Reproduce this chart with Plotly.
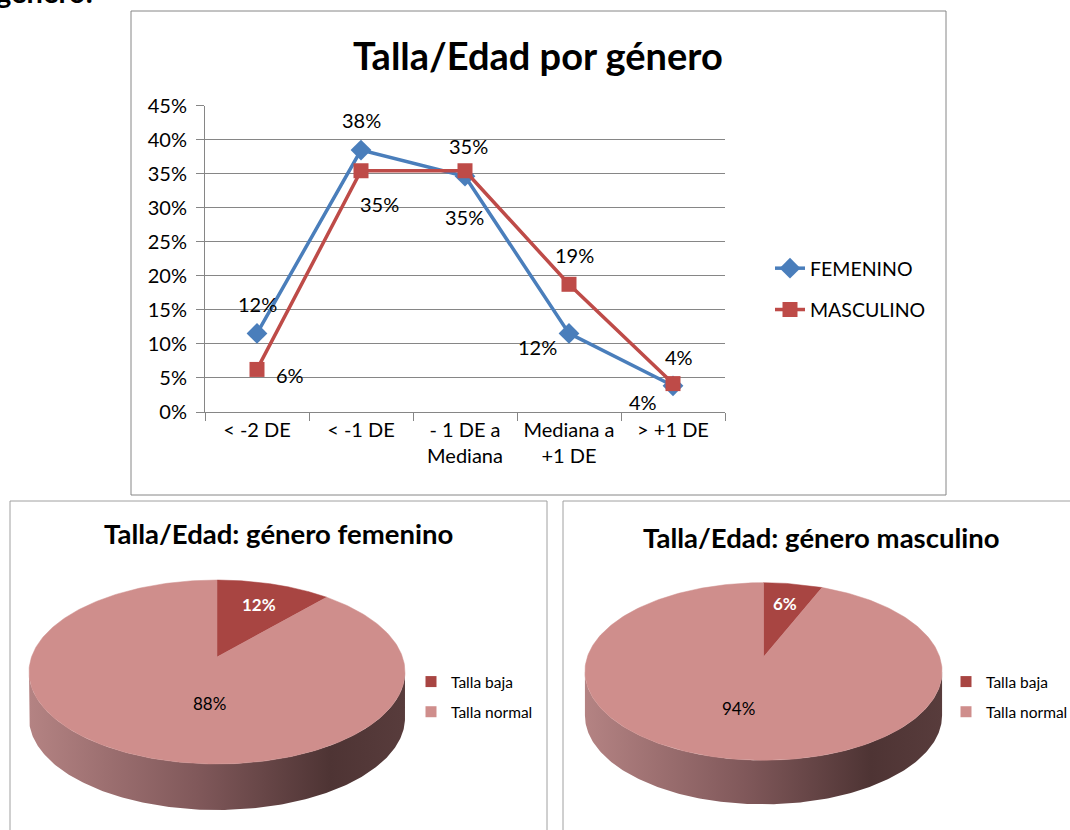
import numpy as np
import plotly.graph_objects as go

# ---------------- data ----------------
categories = ["< -2 DE", "< -1 DE", "- 1 DE a<br>Mediana", "Mediana a<br>+1 DE", "> +1 DE"]
femenino = [0.1154, 0.3846, 0.3462, 0.1154, 0.0385]
masculino = [0.0625, 0.3542, 0.3542, 0.1875, 0.0417]
fem_labels = ["12%", "38%", "35%", "12%", "4%"]
masc_labels = ["6%", "35%", "35%", "19%", "4%"]
y_ticks = [0, 0.05, 0.10, 0.15, 0.20, 0.25, 0.30, 0.35, 0.40, 0.45]

pie_names = ["Talla baja", "Talla normal"]
pie_fem = [0.1154, 0.8846]
pie_fem_text = ["12%", "88%"]
pie_masc = [0.0625, 0.9375]
pie_masc_text = ["6%", "94%"]

# ---------------- styles ----------------
W, H = 1070, 830
FONT = "Lato"
BLUE = "#4A7EBB"
RED = "#BE4B48"
BAJA = "#A84542"
NORMAL = "#CF8E8C"
GRID = "#868686"
SIDE_SCALE = [[0, "#B48383"], [0.45, "#80585A"], [0.8, "#4E3434"], [1, "#583C3C"]]

# label offsets (px) relative to points
fem_off = [(0, -29), (0, -30), (-1, 41), (-32, 14), (-30, 16)]
masc_off = [(33, 6), (18, 33), (3, -25), (5, -29), (6, -27)]

fig = go.Figure()

# ---------------- line chart ----------------
fig.add_trace(go.Scatter(
    x=categories, y=femenino, mode="lines+markers", name="FEMENINO",
    line=dict(color=BLUE, width=3.5), marker=dict(symbol="diamond", size=16, color=BLUE),
    legendgroup="f", legend="legend", hoverinfo="skip"))
fig.add_trace(go.Scatter(
    x=categories, y=masculino, mode="lines+markers", name="MASCULINO",
    line=dict(color=RED, width=3.5), marker=dict(symbol="square", size=15, color=RED),
    legendgroup="m", legend="legend", hoverinfo="skip"))

annotations = []
for vals, labs, offs in ((femenino, fem_labels, fem_off), (masculino, masc_labels, masc_off)):
    for i, (v, t, (dx, dy)) in enumerate(zip(vals, labs, offs)):
        annotations.append(dict(x=i, y=v, xref="x", yref="y", text=t, showarrow=False,
                                xshift=dx, yshift=-dy, font=dict(family=FONT, size=20, color="black")))

# ---------------- 3D pies (perspective projection) ----------------
D = 6.13
PIES = [
    dict(vals=pie_fem, text=pie_fem_text, cx=217, cy=657, kx=1137, ky=549, depth=46,
         big_off=(-8, 46), legend="legend2"),
    dict(vals=pie_masc, text=pie_masc_text, cx=763.5, cy=657, kx=1080, ky=530, depth=44,
         big_off=(-25, 51), legend="legend3"),
]


def proj(phi, r, p):
    X = r * np.sin(phi)
    Z = r * np.cos(phi)
    return p["cx"] + p["kx"] * X / (D + Z), p["cy"] - p["ky"] * Z / (D + Z)


phi_s = np.arccos(-1 / D)
for p in PIES:
    # side band
    ph = np.linspace(phi_s, 2 * np.pi - phi_s, 200)
    tx, ty = proj(ph, 1.0, p)
    sx = np.concatenate([tx, tx[::-1], tx[:1]])
    sy = np.concatenate([ty, ty[::-1] + p["depth"], ty[:1]])
    fig.add_trace(go.Scatter(x=sx, y=sy, xaxis="x2", yaxis="y2", mode="lines",
                             fill="toself", line=dict(width=0),
                             fillgradient=dict(type="horizontal", colorscale=SIDE_SCALE),
                             showlegend=False, hoverinfo="skip"))
    # top slices
    cum = np.concatenate([[0], np.cumsum(p["vals"])])
    for k, col in enumerate([BAJA, NORMAL]):
        a0, a1 = 2 * np.pi * cum[k], 2 * np.pi * cum[k + 1]
        ph = np.linspace(a0, a1, 300)
        ex, ey = proj(ph, 1.0, p)
        fx = np.concatenate([[p["cx"]], ex, [p["cx"]]])
        fy = np.concatenate([[p["cy"]], ey, [p["cy"]]])
        fig.add_trace(go.Scatter(x=fx, y=fy, xaxis="x2", yaxis="y2", mode="lines",
                                 fill="toself", fillcolor=col, line=dict(width=0.5, color=col),
                                 showlegend=False, hoverinfo="skip"))
    # labels
    mid = np.pi * p["vals"][0]
    lx, ly = proj(mid, 0.7, p)
    annotations.append(dict(x=lx, y=ly, xref="x2", yref="y2", text="<b>%s</b>" % p["text"][0],
                            showarrow=False, font=dict(family=FONT, size=17, color="white")))
    annotations.append(dict(x=p["cx"] + p["big_off"][0], y=p["cy"] + p["big_off"][1],
                            xref="x2", yref="y2", text=p["text"][1], showarrow=False,
                            font=dict(family=FONT, size=17, color="black")))
    # legend entries
    for name, col in zip(pie_names, [BAJA, NORMAL]):
        fig.add_trace(go.Scatter(x=[None], y=[None], xaxis="x2", yaxis="y2", mode="markers",
                                 marker=dict(symbol="square", size=11, color=col),
                                 name=name, legend=p["legend"], legendgroup=p["legend"] + name))

# ---------------- titles / boxes ----------------
annotations += [
    dict(x=538, y=55, xref="x2", yref="y2", text="Talla/Edad por género", showarrow=False,
         font=dict(family=FONT, size=38, color="black", weight="bold")),
    dict(x=278, y=533, xref="x2", yref="y2", text="Talla/Edad: género femenino", showarrow=False,
         font=dict(family=FONT, size=27.5, color="black", weight="bold")),
    dict(x=821, y=537, xref="x2", yref="y2", text="Talla/Edad: género masculino", showarrow=False,
         font=dict(family=FONT, size=27.5, color="black", weight="bold")),
    dict(x=0, y=1, xref="paper", yref="paper", xanchor="left", yanchor="bottom", xshift=-6,
         yshift=-11, text="género:", showarrow=False,
         font=dict(family=FONT, size=29, color="black", weight="bold")),
]

shapes = [
    dict(type="rect", xref="x2", yref="y2", x0=131, y0=11, x1=946, y1=495,
         line=dict(color=GRID, width=1)),
    dict(type="rect", xref="x2", yref="y2", x0=10, y0=501, x1=547, y1=840,
         line=dict(color="#A0A0A0", width=1)),
    dict(type="rect", xref="x2", yref="y2", x0=563, y0=501, x1=1080, y1=840,
         line=dict(color="#A0A0A0", width=1)),
]

fig.update_layout(
    template="none",
    width=W, height=H, margin=dict(l=0, r=0, t=0, b=0, autoexpand=False),
    paper_bgcolor="white", plot_bgcolor="rgba(0,0,0,0)",
    font=dict(family=FONT, color="black"),
    annotations=annotations, shapes=shapes,
    xaxis=dict(domain=[205 / W, 725 / W], type="category", range=[-0.5, 4.5],
               showline=True, linecolor=GRID, linewidth=1, ticks="outside",
               tickson="boundaries", ticklen=8, tickcolor=GRID, showgrid=False,
               tickfont=dict(family=FONT, size=20, color="black"), anchor="y",
               fixedrange=True, automargin=False),
    yaxis=dict(domain=[(H - 412) / H, (H - 105.5) / H], range=[0, 0.45], tickvals=y_ticks,
               tickformat=".0%", showgrid=True, gridcolor=GRID, gridwidth=1, showline=True,
               linecolor=GRID, ticks="outside", ticklen=8, tickcolor=GRID, zeroline=False,
               tickfont=dict(family=FONT, size=20, color="black"), ticklabelstandoff=5,
               anchor="x", fixedrange=True, automargin=False),
    xaxis2=dict(domain=[0, 1], range=[0, W], visible=False, anchor="y2", fixedrange=True,
                automargin=False),
    yaxis2=dict(domain=[0, 1], range=[H, 0], visible=False, anchor="x2", fixedrange=True,
                automargin=False),
    legend=dict(x=770 / W, y=1 - 249 / H, xanchor="left", yanchor="top",
                font=dict(family=FONT, size=19.5, color="black"), tracegroupgap=13,
                bgcolor="rgba(0,0,0,0)"),
    legend2=dict(x=411 / W, y=1 - 665 / H, xanchor="left", yanchor="top",
                 font=dict(family=FONT, size=15.5, color="black"), tracegroupgap=7,
                 bgcolor="rgba(0,0,0,0)"),
    legend3=dict(x=946 / W, y=1 - 665 / H, xanchor="left", yanchor="top",
                 font=dict(family=FONT, size=15.5, color="black"), tracegroupgap=7,
                 bgcolor="rgba(0,0,0,0)"),
    showlegend=True,
)

fig.write_html("out.html", config={"displayModeBar": False},
               post_script="document.body.style.margin='0px';document.body.style.overflow='hidden';")
